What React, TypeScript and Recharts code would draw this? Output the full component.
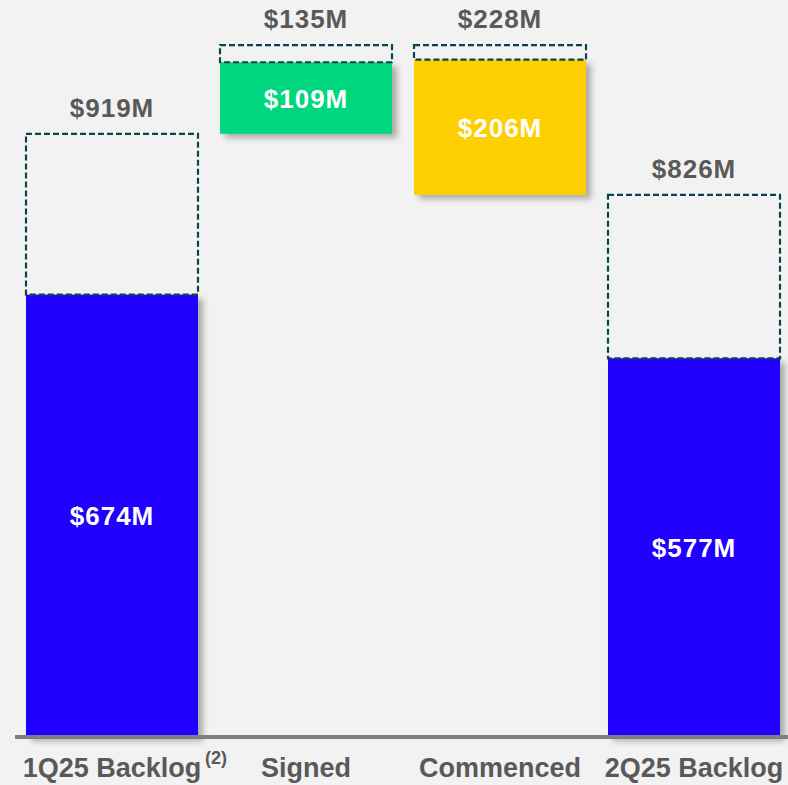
import React from 'react'
import { BarChart, Bar, XAxis, YAxis, Cell, LabelList } from 'recharts'

// Waterfall: backlog at start, signed (+), commenced (-), backlog at end
const categories = ['1Q25 Backlog', 'Signed', 'Commenced', '2Q25 Backlog']
const footnotes = ['(2)', '', '', '']
const totals = [919, 135, 228, 826]
const solidValues = [674, 109, 206, 577]
const barColors = ['#2200FF', '#00D67E', '#FDCF00', '#2200FF']

// floating bars start where the running total leaves off
const bases = [0, totals[0], totals[0] + totals[1] - totals[2], 0]

const data = categories.map((category, i) => ({
  category,
  base: bases[i],
  solid: solidValues[i],
  rest: totals[i] - solidValues[i],
  total: totals[i],
}))

const FONT = '"Liberation Sans", Arial, Helvetica, sans-serif'
const GREY_TEXT = '#595959'
const DASH_COLOR = '#0A454E'

const CategoryTick = (props: any) => {
  const { x, y, payload } = props
  const note = footnotes[payload.index]
  return (
    <g>
      <text x={x} y={y + 32} textAnchor="middle" fill={GREY_TEXT} fontSize={27} fontWeight="bold" fontFamily={FONT}>
        {payload.value}
      </text>
      {note && (
        <text x={x + 93} y={y + 19} textAnchor="start" fill={GREY_TEXT} fontSize={18} fontWeight="bold" fontFamily={FONT}>
          {note}
        </text>
      )}
    </g>
  )
}

const SolidShape = (props: any) => {
  const { x, y, width, height, fill } = props
  if (!height) return null
  return <rect x={x} y={y} width={width} height={height} fill={fill} filter="url(#barShadow)" />
}

const DashedShape = (props: any) => {
  const { x, y, width, height } = props
  if (!height) return null
  return (
    <rect x={x} y={y} width={width} height={height} fill="none" stroke={DASH_COLOR} strokeWidth={2.2} strokeDasharray="6 3" />
  )
}

const TotalLabel = (props: any) => {
  const { x, y, width, value } = props
  return (
    <text x={x + width / 2} y={y - 17} textAnchor="middle" fill={GREY_TEXT} fontSize={26} fontWeight="bold" fontFamily={FONT} letterSpacing={1}>
      {`$${value}M`}
    </text>
  )
}

const InnerLabel = (props: any) => {
  const { x, y, width, height, value } = props
  return (
    <text x={x + width / 2} y={y + height / 2 + 9.5} textAnchor="middle" fill="#FFFFFF" fontSize={26} fontWeight="bold" fontFamily={FONT} letterSpacing={1}>
      {`$${value}M`}
    </text>
  )
}

export default function App() {
  return (
    <div style={{ position: 'absolute', left: 0, top: 0, width: 788, height: 785, background: '#F2F2F2', overflow: 'hidden' }}>
      <svg width={0} height={0} style={{ position: 'absolute' }}>
        <defs>
          <filter id="barShadow" x="-10%" y="-10%" width="130%" height="130%">
            <feDropShadow dx={5} dy={4} stdDeviation={3} floodColor="#000" floodOpacity={0.3} />
          </filter>
        </defs>
      </svg>
      <BarChart
        width={788}
        height={785}
        data={data}
        margin={{ top: 15, right: -3, left: 15, bottom: 0 }}
        barSize={172}
      >
        <YAxis hide type="number" domain={[0, 1100]} />
        <XAxis
          dataKey="category"
          interval={0}
          height={48}
          tickLine={false}
          axisLine={{ stroke: '#7F7F7F', strokeWidth: 4 }}
          tick={<CategoryTick />}
        />
        <Bar dataKey="base" stackId="w" fill="transparent" isAnimationActive={false} />
        <Bar dataKey="solid" stackId="w" shape={<SolidShape />} isAnimationActive={false}>
          {data.map((d, i) => (
            <Cell key={d.category} fill={barColors[i]} />
          ))}
          <LabelList dataKey="solid" content={<InnerLabel />} />
        </Bar>
        <Bar dataKey="rest" stackId="w" shape={<DashedShape />} isAnimationActive={false}>
          <LabelList dataKey="total" content={<TotalLabel />} />
        </Bar>
      </BarChart>
    </div>
  )
}
